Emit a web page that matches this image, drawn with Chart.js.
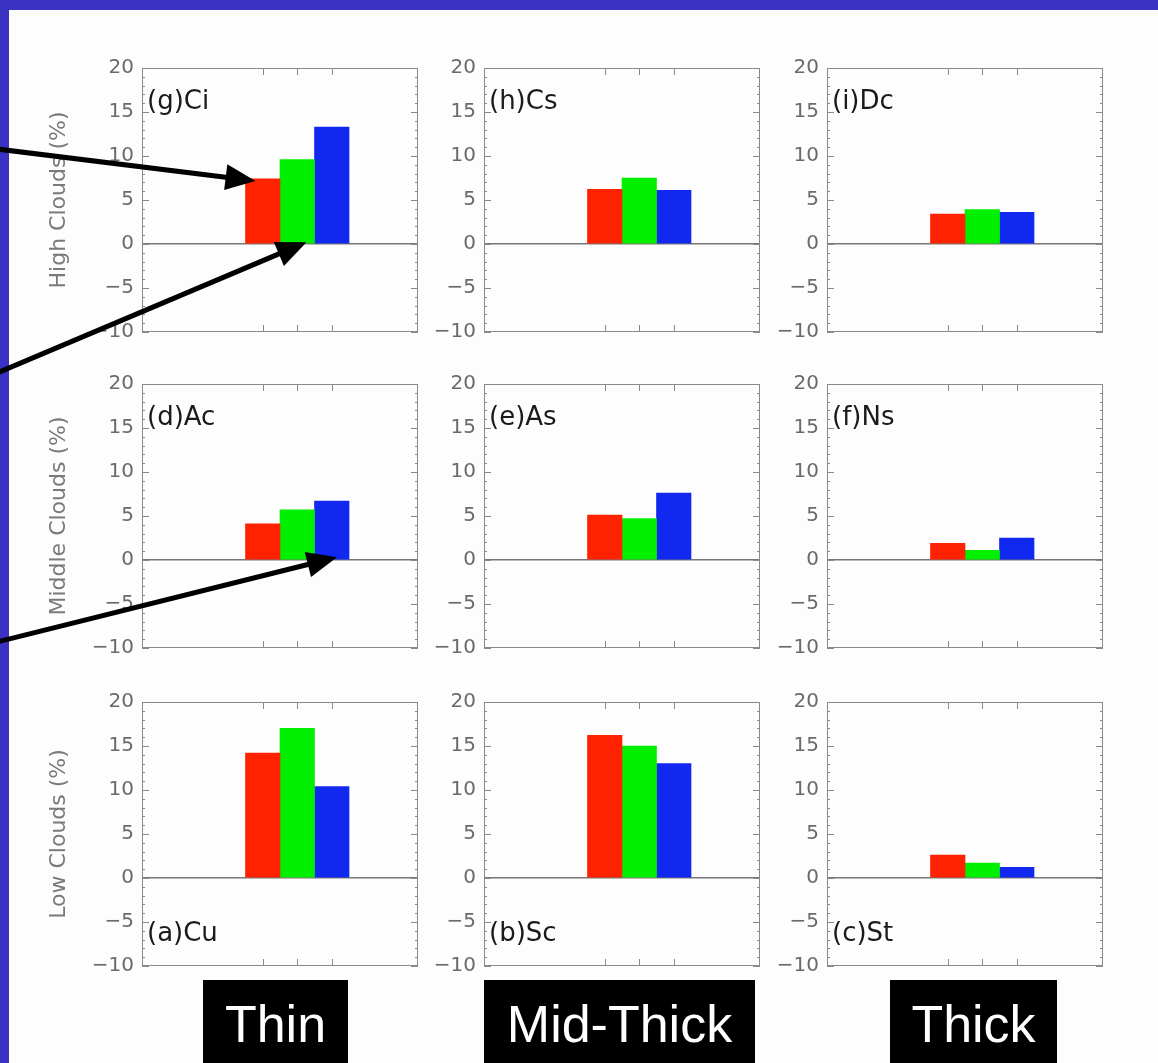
<!DOCTYPE html>
<html><head><meta charset="utf-8">
<script src="https://cdn.jsdelivr.net/npm/chart.js@4/dist/chart.umd.min.js"></script>
<style>
html,body{margin:0;padding:0;background:#fff;}
#page{position:relative;width:1158px;height:1063px;overflow:hidden;background:#fdfdfd;}
.bt{position:absolute;left:0;top:0;width:1158px;height:10px;background:#3b31c3;}
.bl{position:absolute;left:0;top:0;width:9px;height:1063px;background:#3b31c3;}
.panel{position:absolute;}
.lab{position:absolute;top:980px;height:83px;background:#000;color:#fff;font-family:'Liberation Sans',Arial,sans-serif;font-size:52px;}
.lab span{position:absolute;left:0;right:0;top:18px;line-height:52px;text-align:center;white-space:nowrap;}
#ov{position:absolute;left:0;top:0;pointer-events:none;}
</style></head>
<body><div id="page"><div class="bt"></div><div class="bl"></div></div>
<script>
// ---- data ----
const rowTitles = ['High Clouds (%)', 'Middle Clouds (%)', 'Low Clouds (%)'];
const thicknessCategories = ['Thin', 'Mid-Thick', 'Thick'];
const panelLabels = [['(g)Ci', '(h)Cs', '(i)Dc'], ['(d)Ac', '(e)As', '(f)Ns'], ['(a)Cu', '(b)Sc', '(c)St']];
const redValues = [[7.4, 6.2, 3.4], [4.1, 5.1, 1.9], [14.2, 16.2, 2.6]];
const greenValues = [[9.6, 7.5, 3.9], [5.7, 4.7, 1.1], [17.0, 15.0, 1.7]];
const blueValues = [[13.3, 6.1, 3.6], [6.7, 7.6, 2.5], [10.4, 13.0, 1.2]];
const xBins = ['', '', '', 'red', 'green', 'blue', '', ''];
const yTickValues = [-10, -5, 0, 5, 10, 15, 20];

const series = [
  { key: 'red', values: redValues, color: '#ff2200' },
  { key: 'green', values: greenValues, color: '#00f000' },
  { key: 'blue', values: blueValues, color: '#1028f0' }
];

// ---- layout ----
const colLeft = [142, 484, 827], rowTop = [68, 384, 702];
const plotW = 276, plotH = 264, axisW = 100, padR = 8;
const labelBoxes = [[203, 145], [484, 271], [890, 167]];

const page = document.getElementById('page');

const idlFrame = {
  id: 'idlFrame',
  afterDatasetsDraw(chart, args, opts) {
    const { ctx, chartArea: a, scales: { x, y } } = chart;
    ctx.save();
    ctx.strokeStyle = '#8a8a8a';
    ctx.lineWidth = 1;
    ctx.strokeRect(a.left + 0.5, a.top + 0.5, a.width - 1, a.height - 1);
    ctx.beginPath();
    for (let v = y.min; v <= y.max; v++) {
      const py = Math.round(y.getPixelForValue(v)) + 0.5;
      const len = v % 5 === 0 ? 7 : 3;
      ctx.moveTo(a.left, py); ctx.lineTo(a.left + len, py);
      ctx.moveTo(a.right - len, py); ctx.lineTo(a.right, py);
    }
    xBins.forEach((b, i) => {
      if (!b) return;
      const px = Math.round(x.getPixelForValue(i)) + 0.5;
      ctx.moveTo(px, a.bottom); ctx.lineTo(px, a.bottom - 7);
      ctx.moveTo(px, a.top); ctx.lineTo(px, a.top + 7);
    });
    ctx.stroke();
    ctx.fillStyle = '#1a1a1a';
    ctx.font = '26px "DejaVu Sans"';
    ctx.textAlign = 'left';
    ctx.textBaseline = 'alphabetic';
    const ly = opts.bottomLabel ? a.bottom - 25 : a.top + 41;
    ctx.fillText(opts.text, a.left + 5, ly);
    ctx.restore();
  }
};

const charts = [];
for (let r = 0; r < 3; r++) {
  for (let c = 0; c < 3; c++) {
    const W = axisW + plotW + padR;
    let H = plotH + 40;
    const div = document.createElement('div');
    div.className = 'panel';
    const cv = document.createElement('canvas');
    cv.width = W; cv.height = H;
    div.appendChild(cv);
    page.appendChild(div);
    const chart = new Chart(cv, {
      type: 'bar',
      data: {
        labels: xBins,
        datasets: series.map(s => ({
          label: s.key,
          data: xBins.map(b => (b === s.key ? s.values[r][c] : null)),
          backgroundColor: s.color,
          borderWidth: 0
        }))
      },
      options: {
        responsive: false,
        animation: false,
        events: [],
        layout: { padding: { left: 0, right: padR, top: 0, bottom: 0 } },
        datasets: { bar: { grouped: false, barPercentage: 1, categoryPercentage: 1 } },
        plugins: {
          legend: { display: false },
          tooltip: { enabled: false },
          idlFrame: { text: panelLabels[r][c], bottomLabel: r === 2 }
        },
        scales: {
          x: { display: false },
          y: {
            min: yTickValues[0], max: yTickValues[yTickValues.length - 1],
            afterBuildTicks: sc => { sc.ticks = yTickValues.map(v => ({ value: v })); },
            afterFit: sc => { sc.width = axisW; },
            border: { display: false },
            grid: {
              drawTicks: false,
              color: ctx => (ctx.tick && ctx.tick.value === 0 ? '#777' : 'rgba(0,0,0,0)'),
              lineWidth: 1.5
            },
            ticks: {
              padding: 8,
              color: '#6a6a6a',
              font: { family: '"DejaVu Sans"', size: 20 },
              callback: v => (v < 0 ? '\u2212' + Math.abs(v) : String(v))
            },
            title: {
              display: c === 0,
              text: rowTitles[r],
              color: '#7a7a7a',
              font: { family: '"DejaVu Sans"', size: 22 },
              padding: { top: 4, bottom: 4 }
            }
          }
        }
      },
      plugins: [idlFrame]
    });
    // fit the canvas so the plot area lands exactly at the intended box
    const ca = chart.chartArea;
    const topInset = ca.top, bottomInset = H - ca.bottom;
    H = plotH + topInset + bottomInset;
    chart.resize(W, H);
    const ca2 = chart.chartArea;
    const left = colLeft[c] - ca2.left, top = rowTop[r] - ca2.top;
    div.style.left = left + 'px'; div.style.top = top + 'px';
    div.style.width = W + 'px'; div.style.height = H + 'px';
    charts.push({ chart, left, top, r, c });
  }
}

// category labels under the columns
thicknessCategories.forEach((name, i) => {
  const d = document.createElement('div');
  d.className = 'lab';
  d.style.left = labelBoxes[i][0] + 'px';
  d.style.width = labelBoxes[i][1] + 'px';
  const s = document.createElement('span');
  s.textContent = name;
  d.appendChild(s);
  page.appendChild(d);
});

// annotation arrows
const ov = document.createElement('canvas');
ov.id = 'ov'; ov.width = 1158; ov.height = 1063;
page.appendChild(ov);
const octx = ov.getContext('2d');
function barBox(r, c, sIdx) {
  const p = charts.find(q => q.r === r && q.c === c);
  const el = p.chart.getDatasetMeta(sIdx).data[xBins.indexOf(series[sIdx].key)];
  return {
    left: p.left + el.x - el.width / 2, right: p.left + el.x + el.width / 2,
    top: p.top + el.y, base: p.top + el.base
  };
}
function arrow(x0, y0, x1, y1) {
  const ang = Math.atan2(y1 - y0, x1 - x0), L = 30, Wd = 13;
  const bx = x1 - L * Math.cos(ang), by = y1 - L * Math.sin(ang);
  octx.strokeStyle = '#000'; octx.fillStyle = '#000'; octx.lineWidth = 5;
  octx.beginPath(); octx.moveTo(x0, y0); octx.lineTo(bx + 2 * Math.cos(ang), by + 2 * Math.sin(ang)); octx.stroke();
  octx.beginPath(); octx.moveTo(x1, y1);
  octx.lineTo(bx - Wd * Math.sin(ang), by + Wd * Math.cos(ang));
  octx.lineTo(bx + Wd * Math.sin(ang), by - Wd * Math.cos(ang));
  octx.closePath(); octx.fill();
}
const gRed = barBox(0, 0, 0), gGreen = barBox(0, 0, 1), dBlue = barBox(1, 0, 2);
arrow(-3, 149, gRed.left + 10, gRed.top + 2);
arrow(-3, 373, gGreen.right - 8, gGreen.base - 1);
arrow(-3, 642, dBlue.right - 12, dBlue.base - 2);
</script>
</body></html>
